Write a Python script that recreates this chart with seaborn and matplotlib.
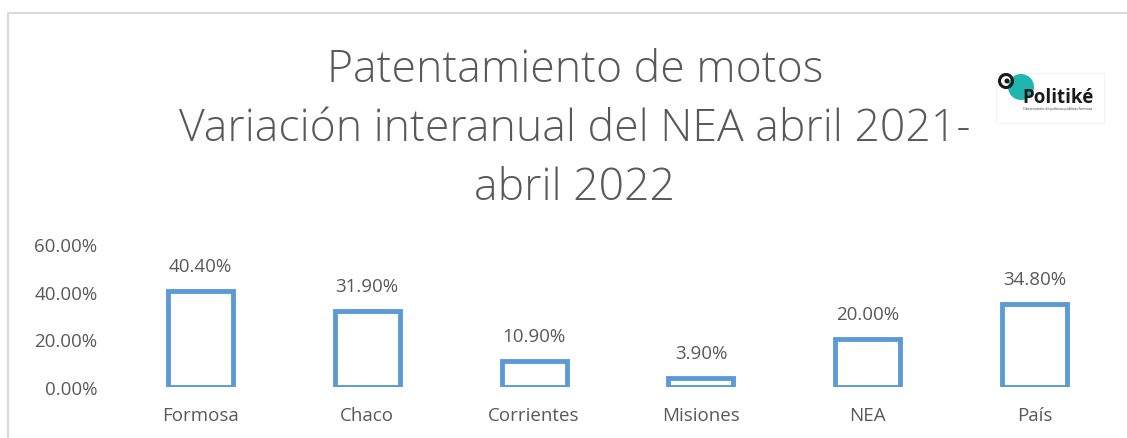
"""Patentamiento de motos: variación interanual NEA abril 2021 - abril 2022."""

import matplotlib.pyplot as plt
import matplotlib.patches as mpatches
import pandas as pd
import seaborn as sns

PROVINCIAS = ["Formosa", "Chaco", "Corrientes", "Misiones", "NEA", "País"]
VARIACION = [0.404, 0.319, 0.109, 0.039, 0.200, 0.348]
YTICKS = [0.0, 0.2, 0.4, 0.6]

BLUE = "#5B9BD5"
GREY = "#595959"
W, H = 1127, 439

df = pd.DataFrame({"provincia": PROVINCIAS, "variacion": VARIACION})

sns.set_style("white")
plt.rcParams["font.family"] = ["Open Sans", "DejaVu Sans"]

fig = plt.figure(figsize=(W / 100, H / 100), dpi=100)
ax = fig.add_axes([117 / W, 51 / H, 1001 / W, 143 / H])

sns.barplot(
    data=df,
    x="provincia",
    y="variacion",
    order=PROVINCIAS,
    color="white",
    edgecolor=BLUE,
    linewidth=3.5,
    width=0.39,
    ax=ax,
)

for patch, val in zip(ax.patches, VARIACION):
    ax.text(
        patch.get_x() + patch.get_width() / 2,
        val + 0.105,
        f"{val * 100:.2f}%",
        ha="center",
        va="center",
        fontsize=13.5,
        color=GREY,
    )

ax.set_ylim(0, 0.6)
ax.set_yticks(YTICKS)
ax.set_yticklabels([f"{t * 100:.2f}%" for t in YTICKS], fontsize=13.5, color=GREY)
ax.tick_params(axis="x", labelsize=13.5, labelcolor=GREY, pad=10)
ax.tick_params(axis="y", pad=14, length=0)
ax.set_xlabel("")
ax.set_ylabel("")
sns.despine(ax=ax, left=True, bottom=True)
ax.patch.set_alpha(0)

fig.text(
    575 / W,
    1 - 130 / H,
    "Patentamiento de motos\nVariación interanual del NEA abril 2021-\nabril 2022",
    ha="center",
    va="center",
    fontsize=32,
    fontweight="light",
    color=GREY,
    linespacing=1.44,
)

# outer chart border (cropped at right and bottom)
fig.add_artist(
    mpatches.Rectangle(
        (8 / W, -0.1),
        1.2,
        (H - 14) / H + 0.1,
        transform=fig.transFigure,
        fill=False,
        edgecolor="#D9D9D9",
        linewidth=1.5,
    )
)

# logo
logo = fig.add_axes([995 / W, 1 - 128 / H, 110 / W, 55 / H])
logo.set_xlim(0, 110)
logo.set_ylim(55, 0)
logo.axis("off")
logo.add_patch(mpatches.Rectangle((1, 1), 108, 50, facecolor="white", edgecolor="#F2F2F2", linewidth=0.8))
logo.add_patch(mpatches.Circle((26, 15), 13, facecolor="#1FB5B0", edgecolor="none"))
logo.add_patch(mpatches.Circle((11, 9), 6.5, facecolor="none", edgecolor="#1A1A1A", linewidth=2.2))
logo.add_patch(mpatches.Circle((12, 9), 2.5, facecolor="#1A1A1A", edgecolor="none"))
logo.text(27, 25, "Politiké", ha="left", va="center", fontsize=13.5,
          fontweight="bold", color="#1A1A1A")
logo.text(28, 36, "Observatorio de políticas públicas formosa",
          ha="left", va="center", fontsize=2.5, color="#333333")

fig.savefig("out.png", dpi=100)
